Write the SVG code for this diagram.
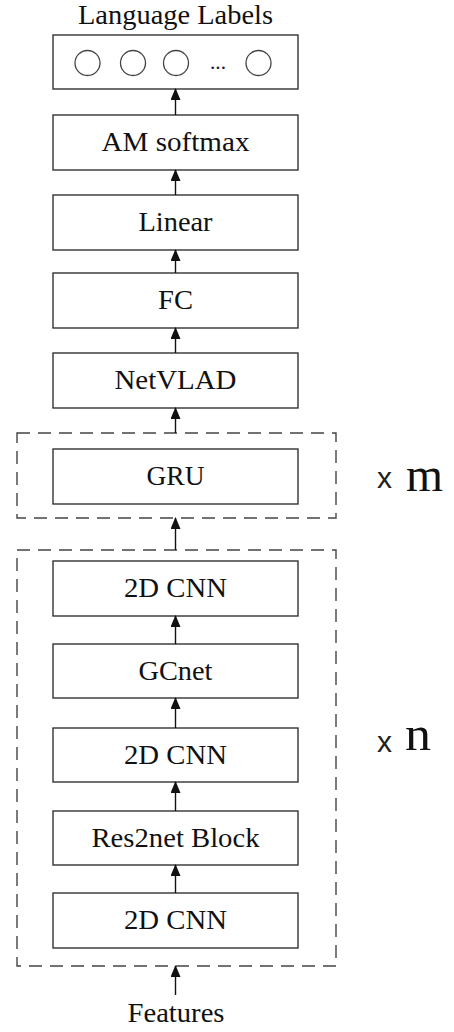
<svg xmlns="http://www.w3.org/2000/svg" width="454" height="1032" viewBox="0 0 454 1032">
  <style>
    .box { fill: #ffffff; stroke: #333333; stroke-width: 1.4; }
    .group { fill: none; stroke: #444444; stroke-width: 1.4; stroke-dasharray: 13 8; }
    .unit { fill: #ffffff; stroke: #444444; stroke-width: 1.3; }
    .lbl { font-family: "Liberation Serif", "Times New Roman", serif; font-size: 27px; fill: #111111; text-anchor: middle; }
    .times { font-family: "Liberation Serif", "Times New Roman", serif; font-size: 48px; fill: #111111; }
    .cross { font-family: "Liberation Sans", Arial, sans-serif; font-size: 30px; fill: #222222; }
  </style>
  <defs>
    <marker id="tip" markerUnits="userSpaceOnUse" markerWidth="12" markerHeight="10" viewBox="0 0 12 10" refX="11" refY="5" orient="auto">
      <path d="M0,0 L12,5 L0,10 Z" fill="#111111"/>
    </marker>
  </defs>

  <!-- repetition groups -->
  <g id="repeat-m">
    <rect class="group" x="17" y="433" width="319" height="85"/>
    <text class="cross" x="377" y="488">x</text>
    <text class="times" x="406" y="491" textLength="37" lengthAdjust="spacingAndGlyphs">m</text>
  </g>
  <g id="repeat-n">
    <rect class="group" x="17" y="550" width="319" height="416"/>
    <text class="cross" x="377" y="752">x</text>
    <text class="times" x="405" y="750" textLength="26" lengthAdjust="spacingAndGlyphs">n</text>
  </g>

  <!-- output layer -->
  <g id="language-labels">
    <text class="lbl" x="175.5" y="24" textLength="195" lengthAdjust="spacingAndGlyphs">Language Labels</text>
    <rect class="box" x="53" y="35" width="245" height="54"/>
    <circle class="unit" cx="87.5" cy="63" r="12.5"/>
    <circle class="unit" cx="133" cy="63" r="12.5"/>
    <circle class="unit" cx="176" cy="63" r="12.5"/>
    <text class="lbl" x="218" y="69" style="font-size:22px;fill:#1a1a40" textLength="16" lengthAdjust="spacingAndGlyphs">...</text>
    <circle class="unit" cx="258.5" cy="63" r="12.5"/>
  </g>

  <g id="am-softmax">
    <rect class="box" x="53" y="115" width="245" height="55"/>
    <text class="lbl" x="175.5" y="151" textLength="148" lengthAdjust="spacingAndGlyphs">AM softmax</text>
  </g>
  <g id="linear">
    <rect class="box" x="53" y="195" width="245" height="55"/>
    <text class="lbl" x="175.5" y="231" textLength="74" lengthAdjust="spacingAndGlyphs">Linear</text>
  </g>
  <g id="fc">
    <rect class="box" x="53" y="273" width="245" height="55"/>
    <text class="lbl" x="175.5" y="309" textLength="35" lengthAdjust="spacingAndGlyphs">FC</text>
  </g>
  <g id="netvlad">
    <rect class="box" x="53" y="353" width="245" height="55"/>
    <text class="lbl" x="175.5" y="389" textLength="122" lengthAdjust="spacingAndGlyphs">NetVLAD</text>
  </g>
  <g id="gru">
    <rect class="box" x="53" y="449" width="245" height="55"/>
    <text class="lbl" x="175.5" y="485" textLength="58" lengthAdjust="spacingAndGlyphs">GRU</text>
  </g>
  <g id="cnn-3">
    <rect class="box" x="53" y="561" width="245" height="55"/>
    <text class="lbl" x="175.5" y="597" textLength="103" lengthAdjust="spacingAndGlyphs">2D CNN</text>
  </g>
  <g id="gcnet">
    <rect class="box" x="53" y="644" width="245" height="54"/>
    <text class="lbl" x="175.5" y="680" textLength="74" lengthAdjust="spacingAndGlyphs">GCnet</text>
  </g>
  <g id="cnn-2">
    <rect class="box" x="53" y="728" width="245" height="54"/>
    <text class="lbl" x="175.5" y="764" textLength="103" lengthAdjust="spacingAndGlyphs">2D CNN</text>
  </g>
  <g id="res2net">
    <rect class="box" x="53" y="811" width="245" height="54"/>
    <text class="lbl" x="175.5" y="847" textLength="168" lengthAdjust="spacingAndGlyphs">Res2net Block</text>
  </g>
  <g id="cnn-1">
    <rect class="box" x="53" y="893" width="245" height="55"/>
    <text class="lbl" x="175.5" y="929" textLength="103" lengthAdjust="spacingAndGlyphs">2D CNN</text>
  </g>
  <g id="features">
    <text class="lbl" x="176" y="1022" textLength="97" lengthAdjust="spacingAndGlyphs">Features</text>
  </g>

  <!-- data flow, bottom to top -->
  <g id="connectors" stroke="#111111" stroke-width="1.4" fill="none" marker-end="url(#tip)">
    <line x1="175.5" y1="115" x2="175.5" y2="89"/>
    <line x1="175.5" y1="195" x2="175.5" y2="170"/>
    <line x1="175.5" y1="273" x2="175.5" y2="250"/>
    <line x1="175.5" y1="353" x2="175.5" y2="328"/>
    <line x1="175.5" y1="433" x2="175.5" y2="408"/>
    <line x1="175.5" y1="550" x2="175.5" y2="518"/>
    <line x1="175.5" y1="644" x2="175.5" y2="616"/>
    <line x1="175.5" y1="728" x2="175.5" y2="698"/>
    <line x1="175.5" y1="811" x2="175.5" y2="782"/>
    <line x1="175.5" y1="893" x2="175.5" y2="865"/>
    <line x1="175.5" y1="995" x2="175.5" y2="966"/>
  </g>
</svg>
